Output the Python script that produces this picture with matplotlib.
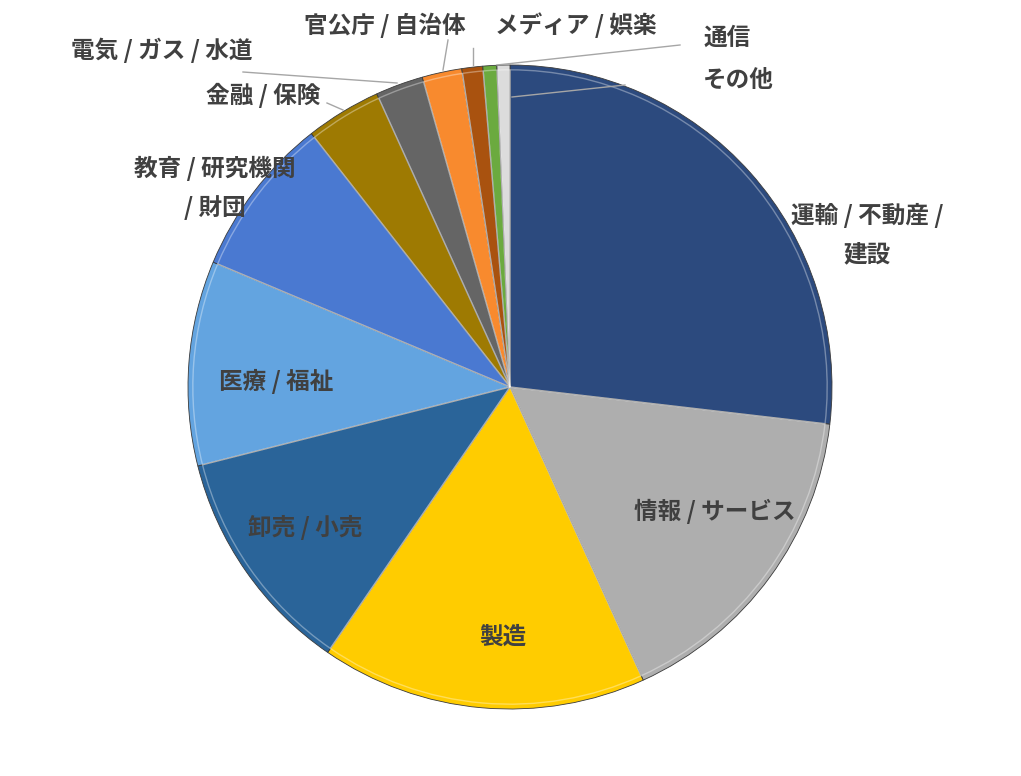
import matplotlib
matplotlib.use("Agg")
import matplotlib.pyplot as plt
import matplotlib.patches as mpatches
import numpy as np

plt.rcParams['font.family'] = ['Noto Sans CJK JP', 'DejaVu Sans']

# 業種別の割合 (%)
industries = ["運輸 / 不動産 /\n建設", "情報 / サービス", "製造", "卸売 / 小売", "医療 / 福祉",
              "教育 / 研究機関\n/ 財団", "金融 / 保険", "電気 / ガス / 水道", "官公庁 / 自治体",
              "メディア / 娯楽", "通信", "その他"]
shares = [26.9, 16.4, 16.4, 11.5, 10.3, 8.1, 3.8, 2.4, 2.0, 1.05, 0.7, 0.65]
colors = ["#2C4A7E", "#AEAEAE", "#FFCC00", "#2A6499", "#63A4E0", "#4A79D1",
          "#9E7A02", "#656565", "#F88A2E", "#A9520F", "#6BAA3F", "#DCDCDC"]

W, H = 1021, 776
cx, cy, R = 510, 387, 322

fig = plt.figure(figsize=(W / 100, H / 100), dpi=100)
ax = fig.add_axes([(cx - R) / W, (H - cy - R) / H, 2 * R / W, 2 * R / H])

wedges, _ = ax.pie(shares, colors=colors, startangle=90, counterclock=False,
                   radius=1, wedgeprops=dict(edgecolor="#3a3a3a", linewidth=0.6))
# 面取り風のハイライト
for w in wedges:
    ax.add_patch(mpatches.Wedge(w.center, w.r * 0.985, w.theta1, w.theta2,
                                facecolor="none", edgecolor="white",
                                linewidth=1.0, alpha=0.35))
ax.set_xlim(-1, 1)
ax.set_ylim(-1, 1)
ax.set_aspect("equal")
ax.axis("off")


def px(x, y):
    return (x - cx) / R, (cy - y) / R


# ラベル位置 (画素座標)
label_pos = [(867, 235), (715, 511), (503, 637), (305, 527), (276, 381),
             (215, 188), (263, 95), (162, 50), (385, 25), (576, 25),
             (727, 38), (738, 80)]
for name, (lx, ly) in zip(industries, label_pos):
    ax.text(*px(lx, ly), name, ha="center", va="center", fontsize=17,
            fontweight="bold", color="#404040", linespacing=1.75, clip_on=False)

# 引き出し線
leaders = [((327, 103), (343, 110)), ((243, 72), (397, 83)), ((448, 40), (443, 70)),
           ((473, 48), (473, 65)), ((680, 45), (497, 65)), ((625, 85), (512, 97))]
for (x0, y0), (x1, y1) in leaders:
    p0, p1 = px(x0, y0), px(x1, y1)
    ax.plot([p0[0], p1[0]], [p0[1], p1[1]], color="#A6A6A6", linewidth=1.0, clip_on=False)

fig.savefig("out.png", dpi=100)
